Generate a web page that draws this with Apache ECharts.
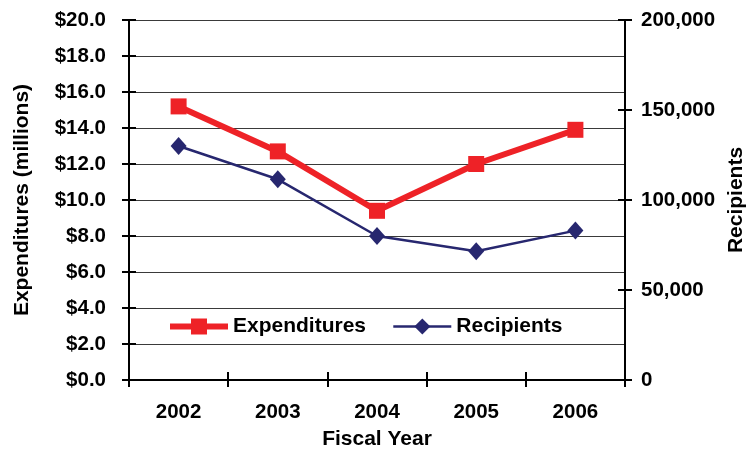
<!DOCTYPE html>
<html>
<head>
<meta charset="utf-8">
<script src="https://cdn.jsdelivr.net/npm/echarts@6/dist/echarts.min.js"></script>
<style>
  html, body { margin: 0; padding: 0; background: #fff; overflow: hidden; }
  #chart { width: 746px; height: 449px; }
</style>
</head>
<body>
<div id="chart"></div>
<script>
// Fiscal years on the category axis
var years = ['2002', '2003', '2004', '2005', '2006'];
// Program expenditures, millions of dollars
var expenditures = [15.2, 12.7, 9.4, 12.0, 13.9];
// Number of recipients
var recipients = [130000, 111500, 80000, 71500, 83000];
// Axis ranges and tick steps
var expTicks = { min: 0, max: 20, step: 2 };
var recTicks = { min: 0, max: 200000, step: 50000 };

var FONT = '"Liberation Sans", Arial, Helvetica, sans-serif';
var RED = '#ee2227';
var NAVY = '#27276f';
var LABEL = { fontFamily: FONT, fontWeight: 'bold', fontSize: 20.5, color: '#000' };
var TITLE = { fontFamily: FONT, fontWeight: 'bold', fontSize: 21, color: '#000' };

var chart = echarts.init(document.getElementById('chart'), null, { renderer: 'canvas' });

// Ticks that cross the axis lines are drawn as an outside set plus an inside set.
function hiddenTwin(extra) {
  return Object.assign({
    axisLine: { show: false },
    axisLabel: { show: false },
    splitLine: { show: false },
    axisTick: { show: true, inside: true, length: 7, lineStyle: { color: '#000', width: 2 } }
  }, extra);
}

chart.setOption({
  animation: false,
  backgroundColor: '#fff',
  grid: { left: 129, right: 121, top: 20, bottom: 69, containLabel: false, outerBoundsMode: 'none' },
  legend: {
    left: 162,
    top: 311,
    itemWidth: 58,
    itemHeight: 20,
    itemGap: 26,
    textStyle: TITLE,
    data: [
      { name: 'Expenditures', lineStyle: { width: 6, color: RED }, itemStyle: { color: RED } },
      { name: 'Recipients', lineStyle: { width: 2.5, color: NAVY }, itemStyle: { color: NAVY } }
    ]
  },
  xAxis: [
    {
      type: 'category',
      data: years,
      position: 'bottom',
      boundaryGap: true,
      name: 'Fiscal Year',
      nameLocation: 'middle',
      nameGap: 49,
      nameTextStyle: TITLE,
      axisLine: { lineStyle: { color: '#000', width: 2 } },
      axisTick: { show: true, length: 7, lineStyle: { color: '#000', width: 2 } },
      axisLabel: Object.assign({ margin: 22 }, LABEL),
      splitLine: { show: false }
    },
    hiddenTwin({ type: 'category', data: years, position: 'bottom', boundaryGap: true, axisTick: { show: true, inside: true, length: 8, lineStyle: { color: '#000', width: 2 } } })
  ],
  yAxis: [
    {
      type: 'value',
      position: 'left',
      min: expTicks.min, max: expTicks.max, interval: expTicks.step,
      name: 'Expenditures (millions)',
      nameLocation: 'middle',
      nameGap: 96,
      nameTextStyle: TITLE,
      axisLine: { show: true, lineStyle: { color: '#000', width: 2 } },
      axisTick: { show: true, length: 7, lineStyle: { color: '#000', width: 2 } },
      axisLabel: Object.assign({ margin: 23, formatter: function (v) { return '$' + v.toFixed(1); } }, LABEL),
      splitLine: { show: true, lineStyle: { color: '#3a3a3a', width: 1 } }
    },
    {
      type: 'value',
      position: 'right',
      min: recTicks.min, max: recTicks.max, interval: recTicks.step,
      name: 'Recipients',
      nameLocation: 'middle',
      nameGap: 99,
      nameRotate: 90,
      nameTextStyle: TITLE,
      axisLine: { show: true, lineStyle: { color: '#000', width: 2 } },
      axisTick: { show: true, length: 7, lineStyle: { color: '#000', width: 2 } },
      axisLabel: Object.assign({ margin: 16, formatter: function (v) { return v.toLocaleString('en-US'); } }, LABEL),
      splitLine: { show: false }
    },
    hiddenTwin({ type: 'value', position: 'left', min: expTicks.min, max: expTicks.max, interval: expTicks.step }),
    hiddenTwin({ type: 'value', position: 'right', min: recTicks.min, max: recTicks.max, interval: recTicks.step })
  ],
  series: [
    {
      name: 'Expenditures',
      type: 'line',
      xAxisIndex: 0,
      yAxisIndex: 0,
      data: expenditures,
      symbol: 'rect',
      symbolSize: 16,
      lineStyle: { color: RED, width: 6 },
      itemStyle: { color: RED },
      z: 3
    },
    {
      name: 'Recipients',
      type: 'line',
      xAxisIndex: 0,
      yAxisIndex: 1,
      data: recipients,
      symbol: 'diamond',
      symbolSize: [16, 18],
      lineStyle: { color: NAVY, width: 2.5 },
      itemStyle: { color: NAVY },
      z: 2
    }
  ]
});
</script>
</body>
</html>
